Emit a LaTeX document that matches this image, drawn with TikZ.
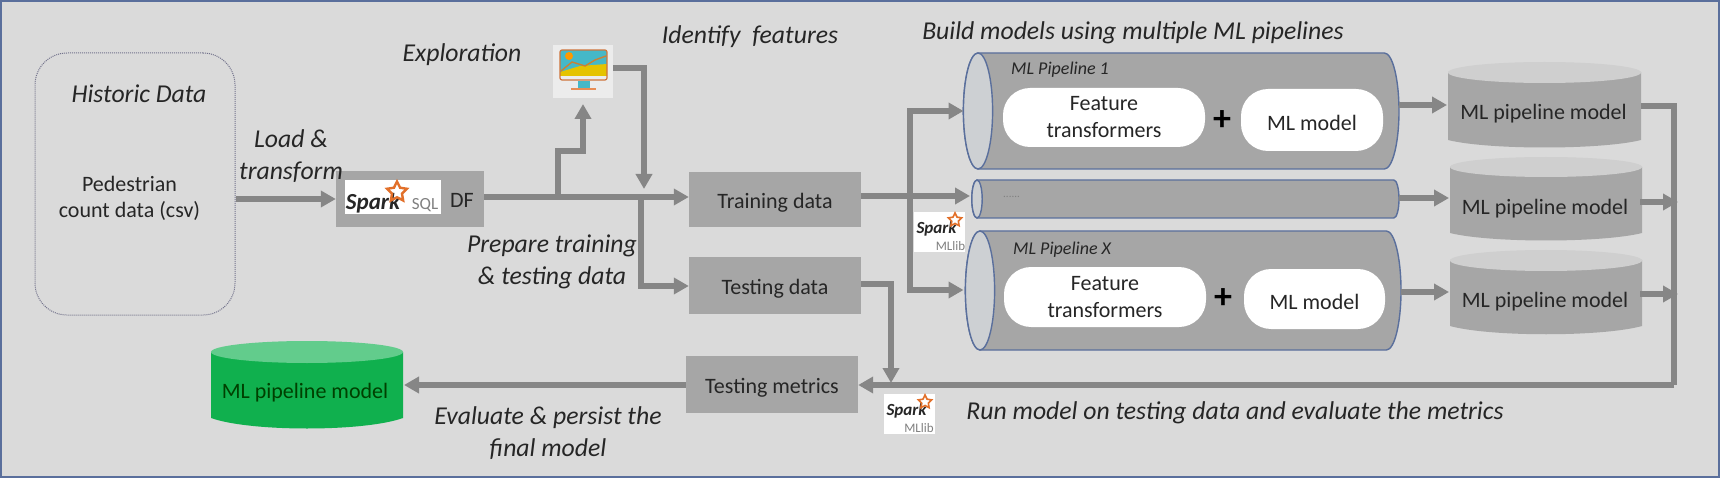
\documentclass[tikz,border=0pt]{standalone}
\usepackage{fontspec}
\setmainfont{Carlito}
\usetikzlibrary{arrows.meta,shapes.geometric}
\definecolor{bgc}{HTML}{DADADA}
\definecolor{framec}{HTML}{5A6F9C}
\definecolor{arrowc}{HTML}{868686}
\definecolor{boxc}{HTML}{A6A6A6}
\definecolor{capc}{HTML}{CDD0D3}
\definecolor{topc}{HTML}{CFCFCF}
\definecolor{txtc}{HTML}{262626}
\definecolor{greenc}{HTML}{10B04E}
\definecolor{greentop}{HTML}{62CC8C}
\definecolor{sparkor}{HTML}{E2702A}
\definecolor{icont}{HTML}{45B8C8}
\newcommand{\fsz}[2]{\fontsize{#1pt}{#2pt}\selectfont}
\newcommand{\dn}[1]{\raisebox{-3pt}[\height][\depth]{#1}}
\tikzset{
  x=1pt,y=-1pt,
  conn/.style={draw=arrowc,line width=5.5pt},
  arr/.style={conn,-{Triangle[length=15pt,width=16pt]}},
  greybox/.style={fill=boxc,draw=none,inner sep=0pt,minimum width=#1,font=\fsz{22}{26},text=txtc},
  lab/.style={font=\fsz{25.7}{32}\itshape,text=txtc,align=center,inner sep=0pt},
  plainlab/.style={font=\fsz{22}{26.5},text=txtc,align=center,inner sep=0pt},
  pill/.style={fill=white,draw=none,rounded corners=27pt,inner sep=0pt,font=\fsz{22}{27},text=txtc,align=center},
  logo/.style={fill=white,draw=none,inner sep=0pt},
  pipe/.style={draw=framec,line width=1.4pt,fill=boxc},
  sparkstar/.style={star,star points=5,star point ratio=2,draw=sparkor,inner sep=0pt},
}
\newcommand{\hcyl}[6]{% name, x left, x right, y top, y bottom, rx
  \path[pipe] (#2,#4) -- (#3-#6,#4) arc[start angle=-90,end angle=90,x radius=#6,y radius={(#5-#4)/2}] -- (#2,#5)
    arc[start angle=90,end angle=270,x radius=#6,y radius={(#5-#4)/2}] -- cycle;
  \node[draw=framec,line width=1.4pt,fill=capc,ellipse,inner sep=0pt,minimum width=2*#6,minimum height=#5-#4] (#1) at (#2,{(#4+#5)/2}) {};
}
\begin{document}
\begin{tikzpicture}
\useasboundingbox (0,0) rectangle (1720,478);
\fill[bgc] (0,0) rectangle (1720,478);
\draw[framec,line width=2.5pt] (1.2,1.2) rectangle (1718.8,476.8);

% historic data
\node[draw=gray!90!blue,densely dotted,line width=1pt,rounded corners=32pt,minimum width=200pt,minimum height=262pt,inner sep=0pt] (hist) at (135,184) {};
\node[lab] (histl) at (139,94) {Historic Data};
\node[plainlab] (ped) at (129.5,198.5) {Pedestrian\\count data (csv)};

% spark sql
\node[fill=boxc,inner sep=0pt,minimum width=148pt,minimum height=56pt] (df) at (410,199) {};
\node[logo,minimum width=96pt,minimum height=34pt] (sqllogo) at (393,197) {};
\node[inner sep=0pt,font=\fsz{23}{28}\bfseries\itshape,text=black!85] (sqlspark) at (373,203) {Spark};
\node[sparkstar,line width=2.4pt,minimum size=21pt] (sqlstar) at (397,192) {};
\node[inner sep=0pt,font=\fsz{17}{20},text=gray] (sqltxt) at (425,205) {SQL};
\node[plainlab] (dftxt) at (462,200) {DF};

% exploration icon
\node[fill=white!50!bgc,inner sep=0pt,minimum width=60pt,minimum height=53pt] (icon) at (583,71.5) {};
\fill[icont] (560,50) rectangle (607,76);
\fill[orange!30!yellow!90!black] (560,72) -- (580,66) -- (607,64) -- (607,76) -- (560,76) -- cycle;
\draw[brown!80!orange,line width=1.4pt] (561,71) -- (572,62) -- (585,66) -- (595,60) -- (606,56);
\fill[orange!80!yellow] (569,56) circle (4pt);
\draw[sparkor!80!gray,line width=1.2pt,rounded corners=2pt] (560,50) rectangle (607,80);
\fill[icont] (578,81) rectangle (590,88);
\draw[sparkor!80,line width=2pt] (571,89.5) -- (596,89.5);

% data boxes
\node[greybox=172pt,minimum height=55pt] (train) at (775,199.5) {\dn{Training data}};
\node[greybox=172pt,minimum height=57pt] (test) at (775,285.5) {\dn{Testing data}};
\node[greybox=172pt,minimum height=57pt] (metrics) at (772,384.5) {\dn{Testing metrics}};

% pipelines
\hcyl{p1}{978}{1399}{53}{169}{14.6}
\hcyl{p2}{977}{1399}{180}{218}{5.2}
\hcyl{p3}{980}{1401}{231}{350}{14.6}
\node[font=\fsz{18}{22}\itshape,text=txtc,anchor=west,inner sep=0pt] (p1l) at (1011,70) {ML Pipeline 1};
\node[font=\fsz{18}{22}\itshape,text=txtc,anchor=west,inner sep=0pt] (p3l) at (1013,250) {ML Pipeline X};
\node[font=\fsz{11}{13},text=gray,anchor=west,inner sep=0pt] (p2l) at (1003,197) {......};
\node[pill,minimum width=202pt,minimum height=59pt] (f1) at (1104,117.5) {Feature\\transformers};
\node[pill,minimum width=142pt,minimum height=62pt] (m1) at (1312,120) {\dn{ML model}};
\node[pill,minimum width=202pt,minimum height=60pt] (f3) at (1105,297) {Feature\\transformers};
\node[pill,minimum width=141pt,minimum height=60pt] (m3) at (1314.5,299) {\dn{ML model}};
\node[inner sep=0pt,font=\fsz{36}{40}\bfseries,text=black] (plus1) at (1222,121) {+};
\node[inner sep=0pt,font=\fsz{36}{40}\bfseries,text=black] (plus3) at (1223,299) {+};

% output cylinders
\foreach \nm/\xl/\xr/\tp/\ld/\sd/\bt/\ty in {a/1448/1641/62/83/140/149/114, b/1450/1642/157/177/233/242/209, c/1450/1642/250/271/326/336/302}{
  \fill[boxc] (\xl,\tp+10) -- (\xl,\sd) .. controls (\xl+40,\bt+1) and (\xr-40,\bt+1) .. (\xr,\sd) -- (\xr,\tp+10) -- cycle;
  \fill[topc] ({(\xl+\xr)/2},{(\tp+\ld)/2}) ellipse[x radius={(\xr-\xl)/2},y radius={(\ld-\tp)/2}];
  \node[plainlab] (cyl\nm) at ({(\xl+\xr)/2-1},\ty) {ML pipeline model};
}
% final model
\fill[greenc] (211,352) -- (211,418) .. controls (250,432) and (364,432) .. (403,418) -- (403,352) -- cycle;
\fill[greentop] (307,352) ellipse[x radius=96,y radius=11];
\node[plainlab,text=black!75!green] (final) at (305,393) {ML pipeline model};
\coordinate (finale) at (404,385);

% mllib logos
\node[logo,minimum width=51pt,minimum height=40pt] (ml1) at (939.5,232) {};
\node[inner sep=0pt,font=\fsz{17}{21}\bfseries\itshape,text=black!85] at (936.5,229) {Spark};
\node[sparkstar,line width=1.6pt,minimum size=14pt] at (955,220) {};
\node[inner sep=0pt,font=\fsz{13}{15},text=gray] at (950.5,246) {MLlib};
\node[logo,minimum width=51pt,minimum height=40pt] (ml2) at (909.5,414) {};
\node[inner sep=0pt,font=\fsz{17}{21}\bfseries\itshape,text=black!85] at (906.5,411) {Spark};
\node[sparkstar,line width=1.6pt,minimum size=14pt] at (925,402) {};
\node[inner sep=0pt,font=\fsz{13}{15},text=gray] at (919,428) {MLlib};

% labels
\node[lab] (l1) at (291,156) {Load \&\\transform};
\node[lab] (l2) at (462,55) {Exploration};
\node[lab] (l3) at (750,37) {Identify\ \ features};
\node[lab] (l4) at (1133,33) {Build models using multiple ML pipelines};
\node[lab] (l5) at (552,261.5) {Prepare training\\\&\ testing data};
\node[lab] (l6) at (548,433.5) {Evaluate \& persist the\\final model};
\node[lab] (l7) at (1235,413) {Run model on testing data and evaluate the metrics};

% connectors
\coordinate (jexpl) at (558,197);
\coordinate (jsplit) at (641,197);
\coordinate (jtrain) at (910,196);
\coordinate (jtest) at (891,385);
\coordinate (bus) at (1674,385);
\coordinate (outa) at (1641,106);
\draw[arr] (hist.east |- 0,199) -- (df.west |- 0,199);
\draw[conn] (df.east |- 0,197) -- (jsplit);
\draw[arr] (jsplit) -- (train.west |- 0,197);
\draw[arr] (jexpl) |- (583,151) -- (583,104);
\draw[arr] (icon.east |- 0,68) -| (644,189);
\draw[arr] (jsplit) |- (test.west |- 0,286);
\draw[arr] (train.east |- 0,196) -- (970,196);
\draw[arr] (jtrain) |- (963.5,111);
\draw[arr] (jtrain) |- (963.5,290);
\draw[arr] (test.east |- 0,284) -| (jtest |- 0,383);
\draw[arr] (bus) -- (metrics.east |- 0,385);
\draw[arr] (metrics.west |- 0,385) -- (finale);
\draw[conn] (outa) -| (bus);
\draw[arr] (1640,202) -- (1678,202);
\draw[arr] (1640,294) -- (1678,294);
\draw[arr] (1399,105) -- (1447,105);
\draw[arr] (1399,198) -- (1449,198);
\draw[arr] (1401,292) -- (1449,292);
\end{tikzpicture}
\end{document}
